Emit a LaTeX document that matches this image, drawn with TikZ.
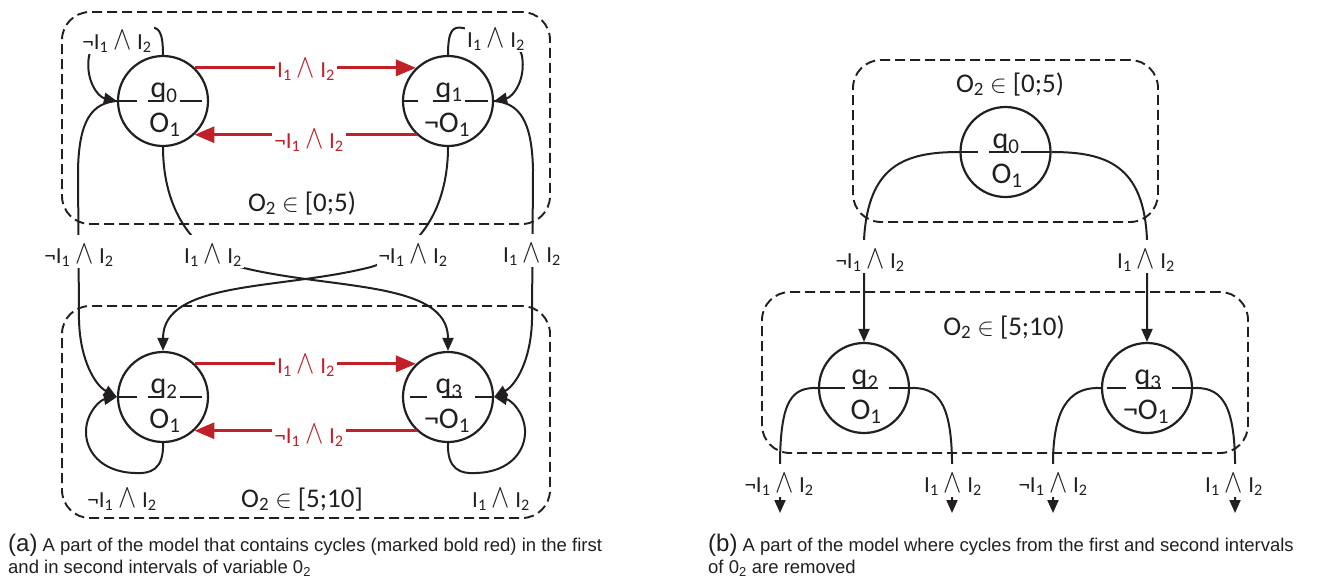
\documentclass[tikz,border=0pt]{standalone}
\usepackage{fontspec}
\usepackage{graphicx}
\setmainfont{Carlito}
\newfontfamily\capfont{Liberation Sans}
\usetikzlibrary{arrows.meta,shapes.geometric}
\definecolor{cred}{RGB}{192,32,40}
\definecolor{cblk}{RGB}{35,31,32}
\newcommand{\TLand}{\scalebox{1.1}[1.35]{\(\wedge\)}}
\newcommand{\TLpos}{I\textsubscript{1} \TLand{} I\textsubscript{2}}
\newcommand{\TLneg}{¬I\textsubscript{1} \TLand{} I\textsubscript{2}}
\newcommand{\TLin}{O\textsubscript{2} \(\in\) }
\tikzset{
  stnode/.style={circle, draw=cblk, line width=2.2pt, minimum size=90pt, inner sep=0pt},
  midln/.style={cblk, line width=2.2pt},
  stxt/.style={font=\fontsize{30}{34}\selectfont, text=cblk, inner sep=0pt, anchor=base},
  arr/.style={cblk, line width=2pt, -{Triangle[length=13pt,width=11pt]}},
  rarr/.style={cred, line width=3.2pt, -{Triangle[length=20pt,width=16pt]}},
  elab/.style={fill=white, text=cblk, font=\fontsize{23}{27}\selectfont, anchor=base,
    text height=26pt, text depth=3pt, inner ysep=2pt, inner xsep=2pt},
  relab/.style={elab, text=cred},
  grp/.style={draw=cblk, line width=1.9pt, dash pattern=on 10pt off 5pt, rounded corners=28pt},
  ivl/.style={font=\fontsize{27}{31}\selectfont, text=cblk, anchor=base, inner sep=0pt},
  captxt/.style={font=\capfont\fontsize{18.5}{22}\selectfont, text=cblk, anchor=base west, inner sep=0pt}
}
\begin{document}
\begin{tikzpicture}[x=1pt,y=-1pt]
\useasboundingbox (0,0) rectangle (1319,582);
\fill[white] (0,0) rectangle (1319,582);

% ---------------- (a) ----------------
\node[grp, minimum width=488pt, minimum height=212pt] (ga1) at (306,118) {};
\node[grp, minimum width=488pt, minimum height=212pt] (ga2) at (306,412) {};

\node[stnode] (q0) at (163,101) {};
\node[stnode] (q1) at (448,101) {};
\node[stnode] (q2) at (163,397) {};
\node[stnode] (q3) at (448,397) {};

\draw[midln, dash pattern=on 20pt off 11pt on 14pt off 18pt on 22pt off 40pt] (q0.west) -- (q0.east);
\draw[midln, dash pattern=on 16pt off 15pt on 15pt off 17pt on 23pt off 40pt] (q1.west) -- (q1.east);
\draw[midln, dash pattern=on 20pt off 11pt on 14pt off 18pt on 22pt off 40pt] (q2.west) -- (q2.east);
\draw[midln, dash pattern=on 0pt off 8pt on 17pt off 15pt on 20pt off 13pt on 18pt off 40pt] (q3.west) -- (q3.east);

\node[stxt] (q0n) at (164,97) {q\textsubscript{0}};
\node[stxt] (q0o) at (165,132) {O\textsubscript{1}};
\node[stxt] (q1n) at (449,97) {q\textsubscript{1}};
\node[stxt] (q1o) at (447,132) {¬O\textsubscript{1}};
\node[stxt] (q2n) at (164,393) {q\textsubscript{2}};
\node[stxt] (q2o) at (165,428) {O\textsubscript{1}};
\node[stxt] (q3n) at (449,393) {q\textsubscript{3}};
\node[stxt] (q3o) at (447,428) {¬O\textsubscript{1}};

% red cycles
\draw[rarr] (q0.46) -- (q1.134);
\draw[rarr] (q1.227) -- (q0.313);
\draw[rarr] (q2.46) -- (q3.134);
\draw[rarr] (q3.227) -- (q2.313);

% self loops
\draw[arr] (q0.north) .. controls (163,30) and (158,26) .. (148,28)
  .. controls (120,33) and (92,40) .. (89,56)
  .. controls (85,80) and (98,97) .. (q0.west);
\draw[arr] (q1.north) .. controls (448,30) and (453,26) .. (463,28)
  .. controls (491,33) and (519,40) .. (522,56)
  .. controls (526,80) and (513,97) .. (q1.east);
\draw[arr] (q2.south) .. controls (164,470) and (150,474) .. (135,473)
  .. controls (100,472) and (85,450) .. (86,430)
  .. controls (87,412) and (100,400) .. (q2.west);
\draw[arr] (q3.south) .. controls (447,470) and (461,474) .. (476,473)
  .. controls (511,472) and (526,450) .. (525,430)
  .. controls (524,412) and (511,400) .. (q3.east);

% long vertical edges
\draw[arr] (q0.west) .. controls (92,103) and (79,120) .. (78,170) -- (79,320)
  .. controls (80,360) and (95,385) .. (q2.west);
\draw[arr] (q1.east) .. controls (519,103) and (532,120) .. (533,170) -- (532,320)
  .. controls (531,360) and (516,385) .. (q3.east);

% crossing edges
\draw[arr] (q0.south) .. controls (163,200) and (185,250) .. (240,267)
  .. controls (330,290) and (448,280) .. (q3.north);
\draw[arr] (q1.south) .. controls (448,200) and (426,250) .. (371,267)
  .. controls (281,290) and (163,280) .. (q2.north);

% labels (a)
\node[relab] (r1) at (306,77) {\TLpos};
\node[relab] (r2) at (309,148) {\TLneg};
\node[relab] (r3) at (306,373) {\TLpos};
\node[relab] (r4) at (309,443) {\TLneg};
\node[elab] (l1) at (117,49) {\TLneg};
\node[elab] (l2) at (496,47) {\TLpos};
\node[elab] (l3) at (122,507) {\TLneg};
\node[elab] (l4) at (501,507) {\TLpos};
\node[elab] (l5) at (79,263) {\TLneg};
\node[elab] (l6) at (532,262) {\TLpos};
\node[elab] (l7) at (213,263) {\TLpos};
\node[elab] (l8) at (413,263) {\TLneg};
\node[ivl] (i1) at (302,211) {\TLin[0;5)};
\node[ivl] (i2) at (302,507) {\TLin[5;10]};

% ---------------- (b) ----------------
\node[grp, minimum width=305pt, minimum height=162pt] (gb1) at (1005.5,141) {};
\node[grp, minimum width=486pt, minimum height=161pt] (gb2) at (1005,372.5) {};

\node[stnode] (p0) at (1005.5,152) {};
\node[stnode] (p2) at (864,388) {};
\node[stnode] (p3) at (1147,388) {};

\draw[midln, dash pattern=on 19pt off 11pt on 20pt off 12pt on 29pt off 40pt] (p0.west) -- (p0.east);
\draw[midln, dash pattern=on 27pt off 8pt on 25pt off 11pt on 22pt off 40pt] (p2.west) -- (p2.east);
\draw[midln, dash pattern=on 0pt off 6pt on 19pt off 11pt on 24pt off 11pt on 19pt off 40pt] (p3.west) -- (p3.east);

\node[stxt] (p0n) at (1006,148) {q\textsubscript{0}};
\node[stxt] (p0o) at (1007,183) {O\textsubscript{1}};
\node[stxt] (p2n) at (865,384) {q\textsubscript{2}};
\node[stxt] (p2o) at (866,419) {O\textsubscript{1}};
\node[stxt] (p3n) at (1148,384) {q\textsubscript{3}};
\node[stxt] (p3o) at (1146,419) {¬O\textsubscript{1}};

\draw[arr] (p0.west) .. controls (905,152) and (868,165) .. (864,240) -- (p2.north);
\draw[arr] (p0.east) .. controls (1106,152) and (1144,165) .. (1147,240) -- (p3.north);

\coordinate (e1) at (780,513);
\coordinate (e2) at (952,513);
\coordinate (e3) at (1053,513);
\coordinate (e4) at (1235,513);
\draw[arr] (p2.west) .. controls (792,387) and (781,400) .. (780,460) -- (e1);
\draw[arr] (p2.east) .. controls (936,387) and (951,400) .. (952,460) -- (e2);
\draw[arr] (p3.west) .. controls (1075,387) and (1054,400) .. (1053,460) -- (e3);
\draw[arr] (p3.east) .. controls (1219,387) and (1234,400) .. (1235,460) -- (e4);

\node[elab] (m1) at (870,268) {\TLneg};
\node[elab] (m2) at (1146,268) {\TLpos};
\node[elab] (m3) at (779,492) {\TLneg};
\node[elab] (m4) at (953,492) {\TLpos};
\node[elab] (m5) at (1053,492) {\TLneg};
\node[elab] (m6) at (1234,492) {\TLpos};
\node[ivl] (i3) at (1010,92) {\TLin[0;5)};
\node[ivl] (i4) at (1004,335) {\TLin[5;10)};

% captions
\node[captxt] (ca1) at (8,551) {{\fontsize{24}{26}\selectfont (a)} A part of the model that contains cycles (marked bold red) in the first};
\node[captxt] (ca2) at (8,573) {and in second intervals of variable 0\textsubscript{2}};
\node[captxt] (cb1) at (708,551) {{\fontsize{24}{26}\selectfont (b)} A part of the model where cycles from the first and second intervals};
\node[captxt] (cb2) at (708,573) {of 0\textsubscript{2} are removed};
\end{tikzpicture}
\end{document}
